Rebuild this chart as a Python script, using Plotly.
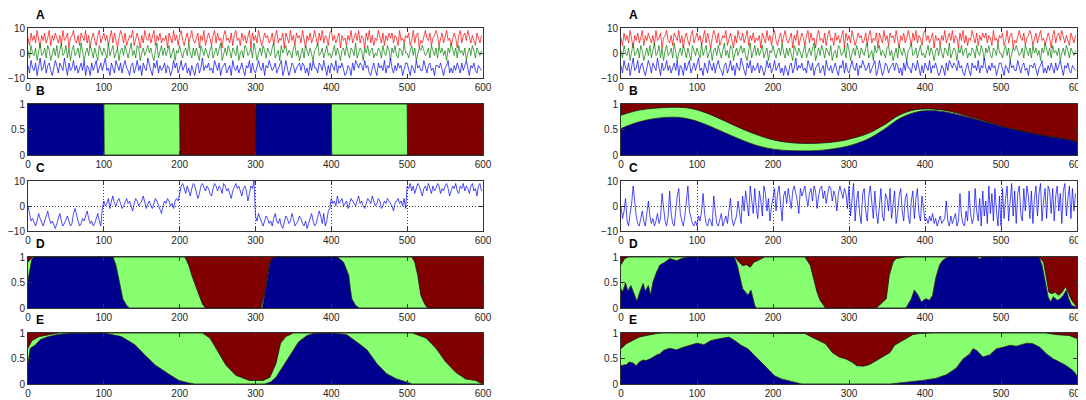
import plotly.graph_objects as go

# The page body has an 8px default margin, so the figure is sized to fill
# the remaining 1078x392 area of the 1086x400 window.
OFF = 8
W, H = 1086 - OFF, 400 - OFF

# ---------------- data ----------------
x_ticks = [0, 100, 200, 300, 400, 500, 600]
NOISE_STEP = 2  # samples every 2 units on the 0..600 axis

A_red = [6,3,8,5,7,4,9,6,2,7, 5,8,4,6,9,3,7,5,8,6, 4,7,3,9,5,6,8,2,6,7,
         9,5,4,7,3,8,6,5,9,4, 7,2,6,8,5,3,7,9,4,6, 8,5,7,3,6,9,4,8,5,2,
         6,9,7,4,8,3,5,7,6,9, 3,6,8,5,2,7,4,9,6,5, 8,4,6,9,3,7,5,8,4,6,
         5,7,2,8,6,4,9,5,7,3, 7,9,5,3,6,8,4,6,9,5, 4,6,8,2,7,5,9,3,6,8,
         6,3,7,9,4,8,5,6,2,7, 9,5,6,4,8,3,7,9,5,6, 3,8,5,7,4,6,9,2,8,5,
         7,4,9,6,3,5,8,6,7,4, 5,8,3,7,9,4,6,5,8,2, 8,6,4,9,5,7,3,8,6,7,
         4,9,6,2,7,5,8,4,6,9, 6,3,8,5,9,4,7,6,3,8, 9,5,7,4,6,8,2,7,5,6,
         3,7,5,9,4,6,8,5,9,4, 7,6,2,8,5,9,4,7,3,6, 5,9,6,4,8,3,7,5,8,6,
         8,4,7,6,3,9,5,6,4,7, 6,8,3,5,9,4,7,8,2,5, 4,7,9,6,5,8,3,6,7,9,
         7,3,5,8,4,6,9,5,6,3, 5,8,6,2,7,9,4,7,8,5, 9,6,4,7,5,3,8,6,4,7]
A_green = [1,-2,3,0,-1,2,-3,1,4,-1, 0,2,-2,3,1,-3,0,2,-1,3, -2,1,4,-1,0,3,-2,2,-3,1,
           3,-1,0,2,-2,4,1,-3,0,2, -1,3,1,-2,2,0,-3,3,1,-1, 2,0,-2,4,-1,1,3,-2,0,2,
           -3,1,2,-1,3,0,-2,1,4,-1, 1,-2,3,2,-3,0,2,-1,1,3, 0,2,-1,-3,1,4,-2,0,3,-1,
           2,-1,1,3,-2,0,2,-3,1,0, 3,0,-2,1,2,-1,4,0,-2,2, -1,2,0,-3,3,1,-1,2,0,-2,
           1,3,-2,0,2,-1,1,4,-3,0, 2,-1,3,1,-2,2,0,-1,3,-3, 0,1,-2,3,2,-1,0,2,-2,4,
           1,-3,0,2,-1,3,1,-2,2,0, -1,2,4,-2,0,1,-3,3,0,2, 3,-1,1,0,-2,2,3,-1,1,-3,
           0,2,-2,3,1,-1,2,0,-3,1, 2,4,-1,0,2,-2,1,3,-1,0, -2,1,3,-1,2,0,-3,1,2,-1,
           3,0,-2,2,1,-1,4,-2,0,2, 1,-3,2,0,3,-1,1,2,-2,0, -1,2,1,-2,3,0,-1,3,1,-3,
           2,0,3,-1,-2,2,1,-1,4,0, 0,-2,1,3,-1,2,-3,0,2,1, 3,1,-1,0,2,-2,3,1,-1,2,
           -2,3,0,2,-1,1,-3,2,0,4, 1,-1,2,-2,3,0,1,-1,2,-3, 0,2,-1,3,1,-2,2,0,-1,1]
A_blue = [-5,-8,-3,-6,-7,-4,-9,-5,-2,-7, -6,-3,-8,-5,-4,-7,-9,-6,-3,-5, -8,-4,-6,-7,-2,-5,-9,-4,-7,-6,
          -3,-7,-5,-8,-6,-4,-7,-3,-9,-5, -6,-9,-4,-7,-5,-3,-8,-6,-4,-7, -5,-2,-7,-6,-9,-4,-6,-8,-3,-5,
          -7,-4,-8,-5,-3,-6,-7,-9,-5,-4, -8,-6,-3,-7,-5,-9,-4,-6,-7,-2, -5,-7,-9,-4,-6,-3,-8,-5,-7,-6,
          -4,-8,-5,-6,-9,-7,-3,-6,-4,-8, -6,-3,-7,-5,-4,-8,-6,-9,-5,-7, -9,-5,-4,-8,-6,-2,-7,-5,-6,-4,
          -7,-6,-8,-3,-5,-7,-4,-9,-6,-5, -4,-8,-6,-5,-9,-3,-6,-7,-5,-8, -6,-4,-7,-9,-5,-6,-3,-8,-4,-7,
          -8,-5,-3,-6,-7,-4,-9,-5,-6,-3, -5,-7,-6,-4,-8,-6,-5,-3,-9,-7, -3,-6,-9,-7,-4,-5,-8,-6,-5,-4,
          -7,-4,-5,-8,-6,-9,-4,-7,-3,-6, -6,-8,-4,-5,-7,-3,-6,-9,-5,-8, -4,-6,-7,-3,-8,-5,-6,-4,-7,-9,
          -8,-5,-6,-9,-4,-7,-3,-5,-6,-4, -5,-7,-3,-6,-5,-8,-9,-6,-4,-7, -9,-4,-6,-5,-7,-3,-8,-5,-6,-2,
          -6,-8,-5,-7,-4,-6,-5,-9,-7,-4, -4,-7,-9,-5,-6,-8,-3,-6,-5,-7, -7,-3,-6,-8,-5,-4,-7,-6,-9,-5,
          -5,-6,-4,-7,-9,-6,-5,-3,-8,-6, -8,-5,-7,-4,-6,-8,-4,-7,-5,-3, -6,-9,-5,-6,-4,-7,-8,-5,-6,-7]

C_left = [0,-4,-6,-5,-7,-8,-6,-3,-5,-7, -8,-6,-4,-2,-5,-7,-6,-8,-9,-7, -5,-3,-6,-8,-7,-5,-4,-6,-8,-7,
          -3,-1,-4,-6,-8,-7,-5,-6,-4,-2, -5,-7,-6,-8,-7,-5,-3,-6,-8,-1,
          2,0,1,3,-1,2,4,1,0,2, 3,1,-1,0,2,3,1,2,0,-2, 1,3,2,0,1,2,4,2,-1,1,
          2,0,-1,1,3,2,0,-2,-3,0, 2,1,3,2,0,1,-1,2,3,2,
          6,8,9,7,5,8,6,4,7,9, 8,6,3,5,8,9,7,6,8,7, 5,4,7,9,8,6,8,7,5,9,
          8,6,7,5,3,6,8,9,7,8, 6,4,7,8,6,2,5,8,7,10,
          -4,-6,-3,-5,-7,-8,-6,-4,-5,-7, -6,-8,-5,-3,-6,-7,-5,-8,-9,-6, -4,-5,-7,-6,-3,-5,-8,-7,-6,-4,
          -5,-7,-8,-6,-9,-7,-5,-3,-6,-8, -7,-5,-2,-4,-7,-3,-8,-6,-2,-1,
          3,1,2,0,4,1,2,3,0,1, 2,-1,1,3,2,1,0,2,4,1, 2,0,-1,1,3,2,1,4,2,0,
          1,3,2,-1,0,2,1,3,2,1, 0,-2,1,2,3,1,2,0,3,-1,
          8,7,9,6,8,5,7,9,8,6, 4,7,8,6,9,7,5,8,6,7, 9,8,5,7,6,8,9,7,4,6,
          8,7,9,6,5,8,7,9,6,8, 7,5,8,9,6,7,4,8,9,6]
C_right = [0,-5,-2,3,-6,-8,-3,1,8,2, -4,-7,-8,-5,-2,-6,-8,-3,2,-4, -7,-5,-8,-6,-3,-7,-5,5,-2,-6,
           -8,-4,6,-3,-7,-8,-2,4,7,-3, -6,-8,-4,3,8,-2,-5,-7,-8,-6,
           -8,-4,-6,-2,5,-3,-7,-8,-5,-6, -8,4,-2,-7,-8,-5,-3,-8,-6,-4, -7,-2,3,-5,-8,-6,-4,2,-3,-7,
           4,-2,6,1,-4,8,3,-3,7,-1, -5,6,2,-4,8,5,-2,3,-6,0,
           3,7,-2,5,8,2,-6,4,6,1, 7,3,-1,6,8,5,2,-3,7,4, 6,8,3,0,5,7,2,8,6,-1,
           4,7,8,3,6,1,5,8,7,2, 6,4,-2,5,8,6,3,7,5,-1,
           8,-4,3,9,-6,2,6,-3,-7,5, 7,-2,-6,4,8,0,-5,6,-3,-7, 2,7,-4,-6,5,3,-2,7,-5,1,
           6,-7,-3,4,7,-2,-6,3,5,-4, -7,2,6,-5,3,7,-3,-6,4,-1,
           -6,-5,-7,-4,-6,-3,-7,-5,-8,-6, -4,-7,-6,-5,2,-6,-8,-4,-7,-5, -3,-8,-6,5,-4,-7,-8,-2,-6,6,
           -3,-7,-5,7,-2,-6,3,-8,6,-4, 2,-7,8,-3,5,-6,7,-2,-8,4,
           -8,7,-5,3,8,-6,2,9,-4,6, -7,5,8,-3,-6,7,-2,8,4,-5, 6,-7,3,8,-4,5,9,-6,2,7,
           -5,8,6,-3,7,-6,4,8,-2,5, -7,6,9,-4,3,8,-5,7,-2,5]

# B left: piecewise class membership
B_left_x = [0, 100, 100.5, 200, 200.5, 300, 300.5, 400, 400.5, 500, 500.5, 600]
B_left_blue = [1, 1, 0, 0, 0, 0, 1, 1, 0, 0, 0, 0]
B_left_green = [0, 0, 1, 1, 0, 0, 0, 0, 1, 1, 0, 0]

# B right: smooth boundaries
B_right_x = [0, 24, 47, 73, 91, 113, 136, 158, 180, 202, 224, 247, 269, 291, 300, 323, 345,
             366, 388, 410, 432, 454, 476, 498, 520, 542, 564, 586, 600]
B_right_blue = [.52, .65, .72, .74, .70, .59, .44, .30, .18, .11, .085, .08, .10, .15, .18, .30, .49,
                .71, .84, .87, .83, .75, .66, .57, .49, .42, .36, .31, .26]
B_right_gtop = [.78, .88, .92, .935, .915, .82, .67, .52, .39, .29, .24, .225, .24, .28, .31, .41, .58,
                .78, .89, .90, .86, .77, .675, .58, .495, .425, .363, .312, .26]

# D left
D_left_blue_x = [0, 2, 5, 8, 112, 116, 119, 122, 125, 130, 134, 309, 313, 316, 318, 320, 323,
                 408, 416, 420, 423, 425, 427, 432, 437, 600]
D_left_blue_y = [0.55, 0.75, 0.95, 1, 1, 0.84, 0.64, 0.38, 0.18, 0.05, 0, 0, 0.3, 0.6, 0.8, 0.92, 1,
                 1, 0.9, 0.77, 0.64, 0.38, 0.18, 0.05, 0, 0]
D_left_gtop_x = [0, 3, 6, 207, 212, 216, 221, 225, 230, 234, 307, 312, 315, 318, 322, 326,
                 506, 510, 514, 516, 518, 523, 527, 600]
D_left_gtop_y = [0.9, 0.95, 1, 1, 0.84, 0.64, 0.44, 0.25, 0.08, 0, 0, 0.3, 0.6, 0.85, 0.97, 1,
                 1, 0.9, 0.64, 0.44, 0.25, 0.08, 0, 0]

# E left
E_left_blue_x = [0, 3, 10, 16, 25, 39, 56, 100, 123, 141, 154, 168, 185, 199, 212, 220,
                 312, 320, 327, 333, 340, 346, 357, 368, 377, 399, 420, 433, 447, 460, 473, 486, 499, 507, 600]
E_left_blue_y = [0.4, 0.7, 0.77, 0.87, 0.92, 0.97, 0.99, 1, 0.93, 0.77, 0.57, 0.37, 0.2, 0.07, 0.02, 0,
                 0, 0.04, 0.13, 0.27, 0.43, 0.57, 0.83, 0.95, 0.99, 1, 0.97, 0.83, 0.67, 0.4, 0.2, 0.1, 0.03, 0, 0]
E_left_gtop_x = [0, 5, 15, 30, 40, 230, 240, 248, 261, 274, 292, 310, 319, 327, 333, 340, 350,
                 507, 525, 538, 551, 564, 577, 590, 597, 600]
E_left_gtop_y = [0.7, 0.85, 0.93, 0.98, 1, 1, 0.9, 0.7, 0.37, 0.17, 0.07, 0.07, 0.13, 0.4, 0.8, 0.93, 1,
                 1, 0.9, 0.7, 0.43, 0.23, 0.1, 0.07, 0.03, 0]

# D right
D_right_blue_x = [0, 2, 6, 9, 13, 18, 21, 24, 29, 32, 36, 39, 42, 47, 51, 58, 64, 73, 82, 91, 149,
                  153, 156, 158, 160, 164, 167, 171, 173, 176, 178,
                  375, 382, 386, 391, 395, 401, 406, 410, 414, 419, 423, 428, 432, 468, 472, 476, 550,
                  554, 559, 562, 565, 569, 574, 578, 582, 586, 589, 593, 598, 600]
D_right_blue_y = [0.38, 0.31, 0.49, 0.33, 0.44, 0.22, 0.13, 0.28, 0.48, 0.33, 0.44, 0.25, 0.51, 0.71, 0.84,
                  0.9, 0.97, 0.93, 0.98, 1, 1,
                  0.84, 0.64, 0.5, 0.38, 0.31, 0.25, 0.35, 0.22, 0.05, 0,
                  0, 0.18, 0.35, 0.25, 0.12, 0.18, 0.15, 0.25, 0.58, 0.84, 0.93, 0.98, 1, 1, 0.96, 1, 1,
                  0.84, 0.44, 0.22, 0.12, 0.22, 0.15, 0.18, 0.25, 0.35, 0.18, 0.05, 0.02, 0]
D_right_gtop_x = [0, 5, 10, 150, 155, 160, 165, 170, 175, 180, 189, 242, 249, 253, 258, 262, 267, 269,
                  336, 349, 353, 358, 362, 375, 550, 556, 560, 563, 567, 571, 576, 580, 585, 589, 593, 598, 600]
D_right_gtop_y = [0.85, 0.97, 1, 1, 0.9, 0.83, 0.85, 0.8, 0.9, 0.93, 1, 1, 0.84, 0.58, 0.31, 0.15, 0.05, 0,
                  0, 0.18, 0.64, 0.9, 0.97, 1, 1, 0.9, 0.57, 0.31, 0.28, 0.31, 0.25, 0.3, 0.42, 0.3, 0.15, 0.05, 0]

# E right
E_right_blue_x = [0, 7, 11, 16, 20, 24, 29, 33, 38, 42, 47, 51, 56, 64, 73, 82, 91, 100, 109, 118, 127,
                  136, 142, 149, 158, 167, 176, 184, 193, 202, 211, 224, 238,
                  354, 375, 397, 414, 428, 441, 450, 459, 463, 468, 476, 485, 494, 503, 512, 520, 534,
                  542, 551, 560, 569, 577, 586, 595, 600]
E_right_blue_y = [0.36, 0.38, 0.43, 0.41, 0.36, 0.43, 0.47, 0.46, 0.49, 0.53, 0.57, 0.59, 0.66, 0.70, 0.67,
                  0.72, 0.76, 0.80, 0.77, 0.85, 0.88, 0.90, 0.92, 0.86, 0.76, 0.69, 0.56, 0.43, 0.30, 0.16,
                  0.10, 0.05, 0,
                  0, 0.03, 0.07, 0.11, 0.18, 0.31, 0.49, 0.59, 0.69, 0.66, 0.53, 0.57, 0.69, 0.72, 0.76,
                  0.74, 0.80, 0.79, 0.72, 0.59, 0.49, 0.43, 0.36, 0.26, 0.16]
E_right_gtop_x = [0, 7, 16, 24, 33, 47, 56, 242, 251, 260, 269, 278, 287, 296, 304, 310, 319, 327, 336,
                  345, 354, 360, 367, 375, 384, 393, 410, 559, 572, 590, 600]
E_right_gtop_y = [0.69, 0.79, 0.86, 0.92, 0.95, 0.99, 1, 0.99, 0.92, 0.86, 0.79, 0.62, 0.53, 0.49, 0.43,
                  0.36, 0.35, 0.38, 0.46, 0.53, 0.62, 0.76, 0.82, 0.90, 0.97, 0.99, 1, 1, 0.97, 0.95, 0.89]

panel_letters = ["A", "B", "C", "D", "E"]

# ---------------- styling ----------------
BLUE = "#00008F"
GREEN = "#88FF70"
RED = "#800000"
FONT = "Liberation Sans, Arial, sans-serif"
FRAME = "#333333"

# pixel boxes in window coordinates
col_px = [(28, 483), (621, 1077)]
row_px = [(28, 78), (104, 155), (181, 231), (257, 308), (333, 384)]

fig = go.Figure()


def axid(i):
    return "" if i == 0 else str(i + 1)


def add_area(i, bx, by, gx, gy, spline=False):
    shape = "spline" if spline else "linear"
    xa, ya = "x" + axid(i), "y" + axid(i)
    fig.add_trace(go.Scatter(x=bx, y=by, mode="lines", fill="tozeroy", fillcolor=BLUE,
                             line=dict(color="#111111", width=0.8, shape=shape),
                             xaxis=xa, yaxis=ya, showlegend=False, hoverinfo="skip"))
    fig.add_trace(go.Scatter(x=gx, y=gy, mode="lines", fill="tonexty", fillcolor=GREEN,
                             line=dict(color="#111111", width=0.8, shape=shape),
                             xaxis=xa, yaxis=ya, showlegend=False, hoverinfo="skip"))
    fig.add_trace(go.Scatter(x=[0, 600], y=[1, 1], mode="lines", fill="tonexty", fillcolor=RED,
                             line=dict(color=RED, width=0),
                             xaxis=xa, yaxis=ya, showlegend=False, hoverinfo="skip"))


def add_line(i, y, color):
    x = [k * NOISE_STEP for k in range(len(y))]
    fig.add_trace(go.Scatter(x=x, y=y, mode="lines", line=dict(color=color, width=0.7),
                             xaxis="x" + axid(i), yaxis="y" + axid(i),
                             showlegend=False, hoverinfo="skip"))


B_left_gtop = [b + g for b, g in zip(B_left_blue, B_left_green)]

for c in range(2):
    add_line(c, A_red, "#FF0000")
    add_line(c, A_green, "#008000")
    add_line(c, A_blue, "#0000FF")

add_area(2, B_left_x, B_left_blue, B_left_x, B_left_gtop)
add_area(3, B_right_x, B_right_blue, B_right_x, B_right_gtop, spline=True)
add_line(4, C_left, "#0000FF")
add_line(5, C_right, "#0000FF")
add_area(6, D_left_blue_x, D_left_blue_y, D_left_gtop_x, D_left_gtop_y)
add_area(7, D_right_blue_x, D_right_blue_y, D_right_gtop_x, D_right_gtop_y)
add_area(8, E_left_blue_x, E_left_blue_y, E_left_gtop_x, E_left_gtop_y)
add_area(9, E_right_blue_x, E_right_blue_y, E_right_gtop_x, E_right_gtop_y)

layout = dict(width=W, height=H, margin=dict(l=0, r=0, t=0, b=0, autoexpand=False),
              paper_bgcolor="white", plot_bgcolor="white",
              font=dict(family=FONT, size=10, color="#262626"),
              showlegend=False)
annotations = []
for r in range(5):
    for c in range(2):
        i = r * 2 + c
        x0, x1 = col_px[c][0] - OFF, col_px[c][1] - OFF
        top, bot = row_px[r][0] - OFF, row_px[r][1] - OFF
        grid = (r == 2)
        if r in (0, 2):
            yr, yt = [-10, 10], [-10, 0, 10]
        else:
            yr, yt = [0, 1], [0, 0.5, 1]
        common = dict(showline=True, linecolor=FRAME, linewidth=1, mirror="ticks",
                      ticks="inside", ticklen=4, tickcolor=FRAME, tickwidth=1,
                      zeroline=False, showgrid=grid, gridcolor="#444444", griddash="1px,2px",
                      gridwidth=1, automargin=False,
                      tickfont=dict(family=FONT, size=10, color="#262626"))
        layout["xaxis" + axid(i)] = dict(domain=[x0 / W, x1 / W], range=[0, 600],
                                         tickvals=x_ticks, anchor="y" + axid(i), **common)
        layout["yaxis" + axid(i)] = dict(domain=[1 - bot / H, 1 - top / H], range=yr,
                                         tickvals=yt, anchor="x" + axid(i), **common)
        annotations.append(dict(text="<b>%s</b>" % panel_letters[r], xref="paper", yref="paper",
                                x=(x0 + 6) / W, y=1 - (top - 13) / H, xanchor="left", yanchor="middle",
                                showarrow=False, font=dict(family=FONT, size=12, color="black")))
layout["annotations"] = annotations
fig.update_layout(**layout)

fig.write_html("out.html")
